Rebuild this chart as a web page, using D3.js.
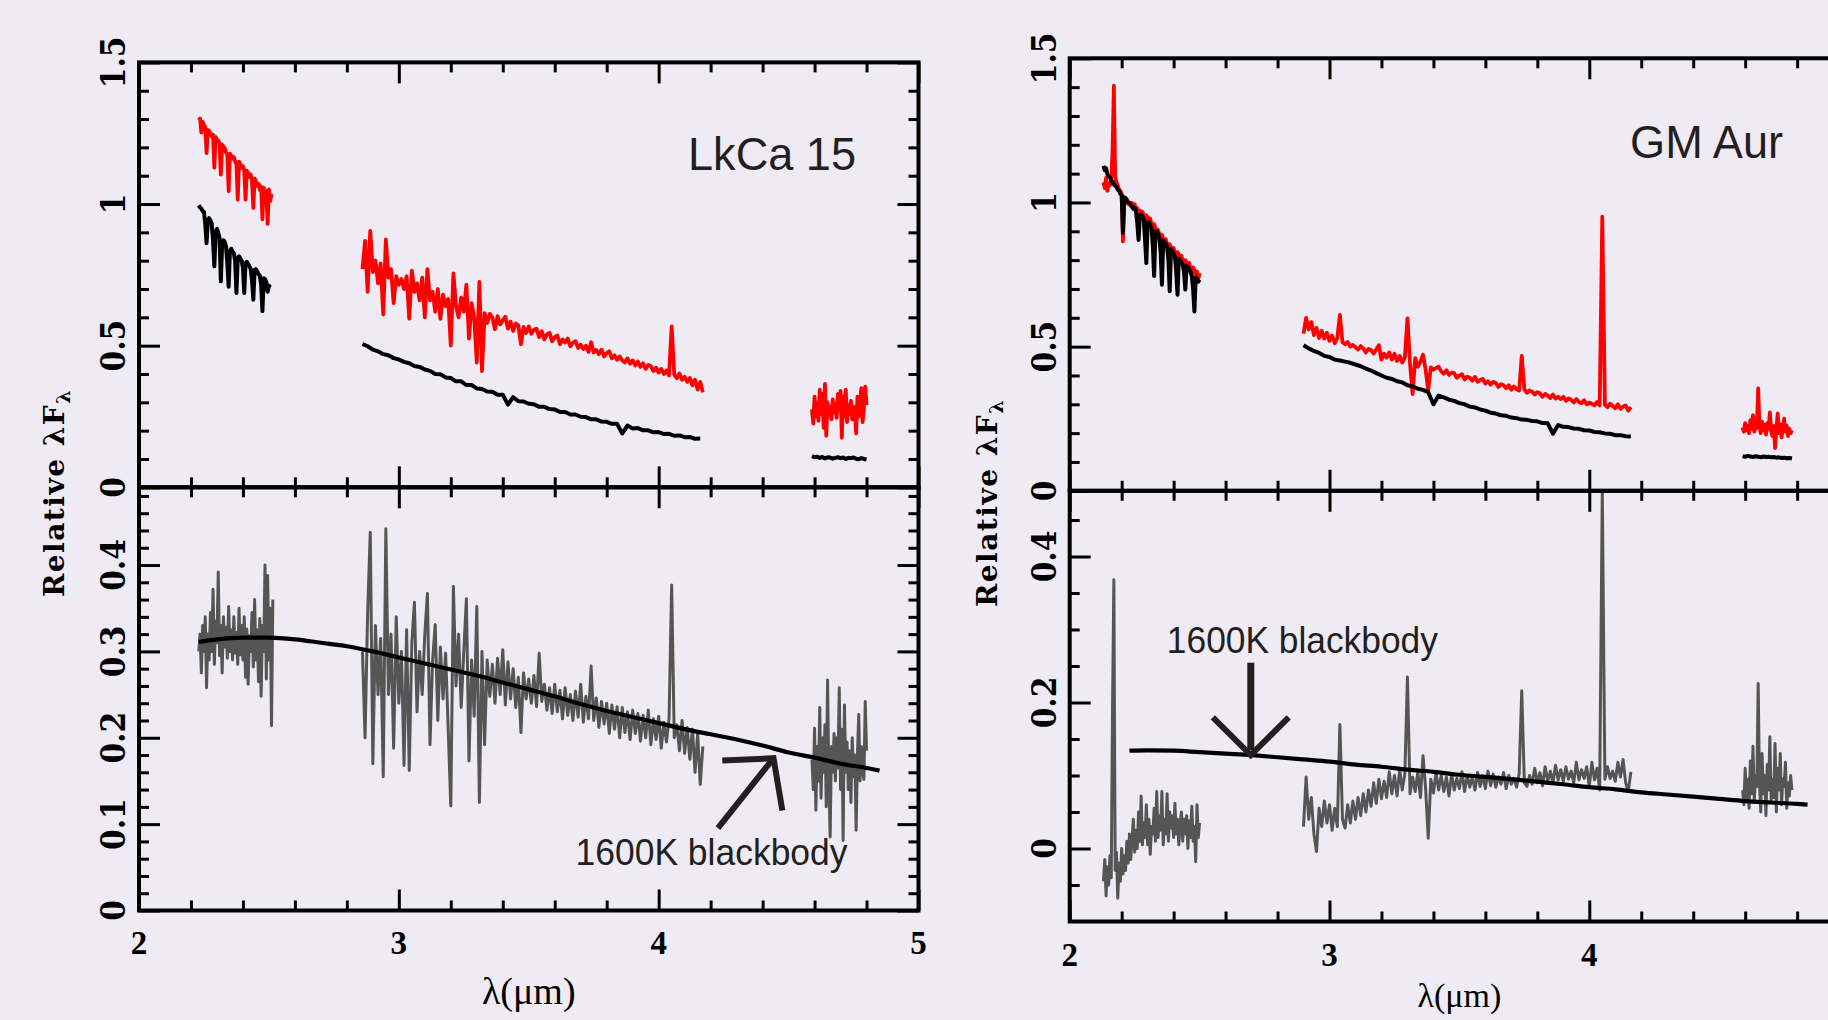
<!DOCTYPE html>
<html>
<head>
<meta charset="utf-8">
<script src="https://cdn.jsdelivr.net/npm/d3@7"></script>
<style>
  html, body { margin: 0; padding: 0; background: #efebf4; }
  svg { display: block; }
</style>
</head>
<body>
<script>
// ---------------------------------------------------------------------------
// Spectra: relative λFλ sampled on regular wavelength grids (µm).
// "target" = star (red), "standard" = photospheric template (black),
// "excess" = residual continuum (grey, lower panels).
// ---------------------------------------------------------------------------

// ---- LkCa 15 ----
const lkcaRedK = [1.296,1.302,1.252,1.290,1.279,1.272,1.180,1.262,1.258,1.247,1.238,1.245,1.128,1.236,1.228,1.224,1.214,1.104,1.210,1.203,1.198,1.182,1.175,1.045,1.178,1.170,1.160,1.166,1.150,1.142,1.015,1.150,1.140,1.128,1.134,1.120,1.015,1.118,1.110,1.096,1.104,1.082,0.986,1.090,1.080,1.064,1.072,1.050,1.062,0.946,1.058,1.040,1.046,0.930,1.052,1.010,1.036];
const lkcaBlackK = [0.996,0.988,0.984,0.975,0.972,0.930,0.862,0.940,0.950,0.942,0.930,0.870,0.780,0.900,0.912,0.900,0.880,0.727,0.860,0.872,0.866,0.850,0.790,0.708,0.835,0.842,0.832,0.826,0.800,0.686,0.808,0.815,0.808,0.800,0.775,0.686,0.792,0.796,0.788,0.780,0.770,0.730,0.662,0.768,0.770,0.762,0.752,0.748,0.715,0.622,0.738,0.735,0.724,0.690,0.712,0.706];
const lkcaRedL = [0.770,0.870,0.690,0.905,0.760,0.800,0.720,0.790,0.610,0.875,0.740,0.770,0.650,0.745,0.715,0.735,0.700,0.745,0.595,0.765,0.690,0.720,0.660,0.740,0.600,0.770,0.660,0.690,0.620,0.700,0.595,0.680,0.640,0.665,0.500,0.755,0.640,0.600,0.670,0.620,0.715,0.525,0.650,0.600,0.440,0.725,0.410,0.615,0.580,0.612,0.600,0.558,0.604,0.575,0.590,0.602,0.560,0.585,0.552,0.578,0.571,0.505,0.566,0.545,0.568,0.542,0.556,0.560,0.530,0.551,0.522,0.540,0.545,0.515,0.530,0.536,0.505,0.522,0.511,0.525,0.498,0.510,0.516,0.492,0.503,0.488,0.500,0.478,0.512,0.476,0.485,0.470,0.486,0.462,0.474,0.480,0.455,0.466,0.450,0.462,0.448,0.441,0.455,0.436,0.448,0.430,0.444,0.425,0.438,0.418,0.432,0.428,0.410,0.422,0.405,0.418,0.400,0.412,0.395,0.568,0.398,0.385,0.402,0.380,0.390,0.372,0.386,0.360,0.380,0.345,0.372,0.335];
const lkcaBlackL = [0.506,0.498,0.486,0.480,0.470,0.466,0.456,0.451,0.443,0.438,0.428,0.425,0.416,0.411,0.400,0.399,0.388,0.386,0.374,0.374,0.361,0.361,0.349,0.347,0.338,0.337,0.327,0.327,0.292,0.318,0.304,0.303,0.295,0.293,0.284,0.284,0.276,0.275,0.266,0.266,0.257,0.257,0.249,0.248,0.240,0.240,0.232,0.231,0.224,0.224,0.190,0.218,0.208,0.209,0.201,0.201,0.194,0.195,0.188,0.189,0.182,0.183,0.177,0.178,0.171,0.172];
const lkcaRedM = [0.275,0.225,0.320,0.250,0.300,0.235,0.345,0.260,0.330,0.210,0.365,0.182,0.300,0.255,0.285,0.240,0.310,0.265,0.295,0.245,0.330,0.275,0.340,0.175,0.320,0.250,0.345,0.230,0.290,0.260,0.305,0.240,0.285,0.270,0.190,0.320,0.250,0.300,0.350,0.230,0.280,0.355,0.290];
const lkcaBlackM = [0.110,0.106,0.108,0.104,0.107,0.102,0.106,0.105,0.101,0.104,0.106,0.103,0.105,0.100,0.104,0.103,0.105,0.101,0.099,0.103,0.100,0.098];
const lkcaExcessK = [0.300,0.320,0.275,0.330,0.300,0.340,0.258,0.320,0.290,0.345,0.300,0.372,0.285,0.335,0.310,0.392,0.295,0.330,0.275,0.340,0.305,0.328,0.292,0.352,0.300,0.325,0.290,0.340,0.298,0.322,0.285,0.350,0.296,0.330,0.290,0.340,0.270,0.326,0.262,0.318,0.300,0.345,0.282,0.360,0.290,0.325,0.265,0.338,0.248,0.330,0.300,0.400,0.268,0.388,0.290,0.350,0.214,0.360];
const lkcaExcessL = [0.300,0.200,0.345,0.438,0.170,0.330,0.250,0.315,0.155,0.442,0.250,0.320,0.188,0.340,0.240,0.300,0.168,0.325,0.162,0.310,0.357,0.230,0.300,0.250,0.320,0.367,0.192,0.290,0.331,0.220,0.305,0.245,0.298,0.210,0.121,0.375,0.260,0.320,0.235,0.300,0.361,0.173,0.290,0.225,0.352,0.125,0.300,0.192,0.290,0.248,0.285,0.240,0.292,0.250,0.302,0.238,0.288,0.245,0.280,0.235,0.270,0.206,0.275,0.245,0.268,0.240,0.272,0.236,0.298,0.242,0.262,0.232,0.258,0.228,0.262,0.230,0.255,0.222,0.258,0.226,0.250,0.220,0.254,0.224,0.262,0.218,0.248,0.222,0.283,0.220,0.246,0.212,0.242,0.216,0.240,0.205,0.238,0.210,0.236,0.200,0.235,0.206,0.230,0.198,0.232,0.205,0.228,0.196,0.226,0.200,0.232,0.192,0.222,0.198,0.225,0.188,0.218,0.195,0.222,0.377,0.200,0.215,0.185,0.220,0.182,0.212,0.175,0.210,0.160,0.205,0.146,0.190];
const lkcaExcessM = [0.175,0.140,0.211,0.116,0.190,0.150,0.235,0.130,0.200,0.160,0.215,0.120,0.267,0.150,0.085,0.190,0.160,0.205,0.150,0.200,0.165,0.258,0.140,0.210,0.081,0.238,0.160,0.195,0.140,0.185,0.125,0.200,0.155,0.180,0.093,0.180,0.227,0.150,0.190,0.160,0.152,0.242,0.185];
// 1600 K blackbody, read at 0.1 µm intervals
const lkcaBBLam  = [2.23,2.3,2.4,2.5,2.6,2.7,2.8,2.9,3.0,3.1,3.2,3.3,3.4,3.5,3.6,3.7,3.8,3.9,4.0,4.1,4.2,4.3,4.4,4.5,4.6,4.7,4.8,4.85];
const lkcaBBFlux = [0.311,0.314,0.316,0.316,0.314,0.310,0.306,0.300,0.293,0.286,0.279,0.272,0.264,0.256,0.248,0.239,0.231,0.224,0.217,0.210,0.204,0.198,0.191,0.183,0.177,0.170,0.165,0.162];

// ---- GM Aur ----
const gmaurRedK = [1.070,1.050,1.085,1.040,1.065,1.060,1.075,1.180,1.405,1.090,1.070,1.058,1.045,1.040,1.030,0.865,1.010,1.005,1.012,0.995,1.000,0.990,0.998,0.985,0.994,0.975,0.980,0.940,0.972,0.965,0.968,0.955,0.930,0.955,0.948,0.938,0.944,0.925,0.905,0.925,0.912,0.900,0.905,0.890,0.870,0.888,0.875,0.868,0.872,0.855,0.835,0.855,0.845,0.838,0.842,0.825,0.800,0.828,0.820,0.812,0.815,0.798,0.775,0.800,0.790,0.785,0.790,0.770,0.748,0.775,0.765,0.752,0.760,0.735,0.755];
const gmaurBlackK = [1.127,1.112,1.118,1.098,1.092,1.088,1.075,1.072,1.062,1.058,1.055,1.045,1.040,1.030,1.025,0.895,1.018,1.015,1.005,1.000,0.998,0.990,0.985,0.978,0.982,0.970,0.930,0.870,0.955,0.960,0.950,0.940,0.870,0.790,0.930,0.932,0.922,0.910,0.850,0.745,0.898,0.900,0.890,0.878,0.830,0.715,0.868,0.862,0.856,0.845,0.800,0.692,0.838,0.830,0.822,0.812,0.760,0.680,0.805,0.800,0.792,0.785,0.760,0.698,0.780,0.775,0.768,0.760,0.745,0.700,0.622,0.740,0.735,0.725,0.732];
const gmaurRedL = [0.545,0.600,0.560,0.585,0.540,0.565,0.530,0.555,0.528,0.548,0.520,0.538,0.512,0.530,0.610,0.515,0.508,0.516,0.500,0.506,0.498,0.490,0.502,0.494,0.480,0.492,0.488,0.476,0.490,0.505,0.455,0.475,0.462,0.480,0.455,0.475,0.450,0.468,0.445,0.462,0.598,0.440,0.335,0.460,0.430,0.448,0.472,0.420,0.350,0.428,0.420,0.426,0.430,0.414,0.406,0.418,0.402,0.410,0.408,0.392,0.400,0.404,0.386,0.396,0.392,0.382,0.395,0.378,0.384,0.388,0.372,0.380,0.368,0.378,0.374,0.360,0.370,0.366,0.356,0.366,0.350,0.362,0.352,0.348,0.468,0.352,0.340,0.348,0.344,0.334,0.342,0.338,0.326,0.336,0.330,0.322,0.334,0.320,0.326,0.318,0.326,0.312,0.320,0.316,0.306,0.318,0.308,0.304,0.314,0.300,0.306,0.302,0.296,0.308,0.296,0.951,0.298,0.290,0.302,0.294,0.286,0.300,0.284,0.292,0.296,0.278,0.290];
const gmaurBlackL = [0.505,0.494,0.485,0.478,0.468,0.464,0.455,0.452,0.448,0.444,0.438,0.432,0.424,0.417,0.408,0.400,0.392,0.388,0.380,0.376,0.366,0.362,0.354,0.350,0.342,0.300,0.330,0.324,0.316,0.312,0.304,0.300,0.292,0.289,0.282,0.278,0.271,0.268,0.262,0.260,0.254,0.252,0.247,0.246,0.242,0.241,0.235,0.234,0.198,0.228,0.222,0.221,0.216,0.215,0.210,0.209,0.204,0.203,0.199,0.198,0.193,0.193,0.189,0.188];
const gmaurRedM = [0.220,0.205,0.235,0.210,0.225,0.200,0.245,0.215,0.262,0.205,0.230,0.218,0.355,0.225,0.200,0.240,0.210,0.228,0.195,0.235,0.215,0.272,0.205,0.190,0.225,0.148,0.210,0.268,0.200,0.230,0.185,0.220,0.250,0.205,0.225,0.190,0.215,0.200,0.210];
const gmaurBlackM = [0.120,0.118,0.121,0.119,0.117,0.120,0.118,0.116,0.119,0.117,0.118,0.116,0.117,0.115,0.116,0.114,0.115,0.113,0.114,0.112];
const gmaurExcessK = [-0.045,-0.015,-0.065,-0.025,-0.050,-0.010,-0.040,0.200,0.368,-0.030,-0.005,-0.068,-0.020,-0.045,0.000,-0.035,-0.010,-0.030,0.010,-0.020,0.020,-0.015,0.015,0.040,-0.005,0.025,0.000,0.050,0.010,0.072,0.005,0.035,0.015,0.060,0.005,0.040,-0.008,0.030,0.020,0.055,0.010,0.078,0.015,0.045,0.025,0.078,0.005,0.040,0.020,0.075,0.010,0.050,0.028,0.045,0.015,0.062,0.020,0.040,0.005,0.035,0.050,0.010,0.040,0.020,0.045,0.000,0.038,0.015,0.058,0.010,0.030,-0.018,0.060,0.015,0.035];
const gmaurExcessL = [0.030,0.098,0.040,0.070,0.020,-0.004,0.055,0.030,0.065,0.035,0.060,0.025,0.055,0.030,0.170,0.040,0.028,0.060,0.035,0.065,0.040,0.070,0.045,0.075,0.050,0.080,0.058,0.090,0.062,0.095,0.068,0.092,0.070,0.105,0.075,0.100,0.072,0.108,0.080,0.102,0.235,0.075,0.098,0.078,0.105,0.070,0.127,0.082,0.014,0.095,0.076,0.104,0.080,0.100,0.078,0.098,0.072,0.102,0.080,0.096,0.082,0.105,0.078,0.100,0.084,0.098,0.080,0.104,0.085,0.100,0.082,0.106,0.086,0.102,0.084,0.098,0.088,0.104,0.082,0.100,0.088,0.096,0.084,0.102,0.216,0.090,0.085,0.100,0.088,0.110,0.090,0.104,0.086,0.112,0.092,0.106,0.090,0.114,0.094,0.108,0.092,0.112,0.095,0.106,0.090,0.118,0.094,0.108,0.096,0.112,0.085,0.118,0.094,0.110,0.080,0.490,0.095,0.112,0.096,0.106,0.092,0.118,0.098,0.122,0.090,0.078,0.105];
const gmaurExcessM = [0.080,0.060,0.110,0.070,0.095,0.055,0.120,0.075,0.140,0.065,0.100,0.085,0.226,0.090,0.050,0.130,0.075,0.100,0.045,0.115,0.080,0.153,0.065,0.095,0.070,0.144,0.050,0.110,0.080,0.130,0.060,0.095,0.085,0.118,0.055,0.090,0.072,0.100,0.080];
const gmaurBBLam  = [2.23,2.3,2.4,2.5,2.6,2.7,2.8,2.9,3.0,3.1,3.2,3.3,3.4,3.5,3.6,3.7,3.8,3.9,4.0,4.1,4.2,4.3,4.4,4.5,4.6,4.7,4.8,4.84];
const gmaurBBFlux = [0.134,0.1345,0.134,0.132,0.130,0.128,0.125,0.122,0.119,0.115,0.112,0.108,0.105,0.101,0.098,0.095,0.0915,0.088,0.084,0.081,0.077,0.074,0.071,0.068,0.065,0.063,0.061,0.060];

// Axis ticks and labels
const lamTicksMajor = [2, 3, 4, 5];
const lamTicksMinor = [2.2, 2.4, 2.6, 2.8, 3.2, 3.4, 3.6, 3.8, 4.2, 4.4, 4.6, 4.8];
const fluxTicksMajor = [0, 0.5, 1, 1.5];
const fluxTicksMinor = [0.1, 0.2, 0.3, 0.4, 0.6, 0.7, 0.8, 0.9, 1.1, 1.2, 1.3, 1.4];
const lkcaExcessMajor = [0, 0.1, 0.2, 0.3, 0.4];
const lkcaExcessMinor = [0.02, 0.04, 0.06, 0.08, 0.12, 0.14, 0.16, 0.18, 0.22, 0.24, 0.26, 0.28, 0.32, 0.34, 0.36, 0.38, 0.42, 0.44, 0.46, 0.48];
const gmaurExcessMajor = [0, 0.2, 0.4];
const gmaurExcessMinor = [-0.05, 0.05, 0.1, 0.15, 0.25, 0.3, 0.35, 0.45];

// ---------------------------------------------------------------------------
const W = 1828, H = 1020;
const INK = '#231f20';
const svg = d3.select('body').append('svg').attr('width', W).attr('height', H);
svg.append('rect').attr('width', W).attr('height', H).attr('fill', '#efebf4');

const seriesStyle = {
  target:   { stroke: '#ff0000', width: 3.8 },
  standard: { stroke: '#000000', width: 4.0 },
  excess:   { stroke: '#555555', width: 3.0 }
};

const grid = (lam0, dlam, flux) => flux.map((f, i) => [lam0 + i * dlam, f]);

let clipId = 0;
function clipRect(x0, y0, x1, y1) {
  const id = 'clip' + (clipId++);
  svg.append('clipPath').attr('id', id).append('rect')
    .attr('x', x0).attr('y', y0).attr('width', x1 - x0).attr('height', y1 - y0);
  return `url(#${id})`;
}

function tickRow(g, axisFn, scale, values, size, transform) {
  const a = g.append('g').attr('transform', transform)
    .call(axisFn(scale).tickValues(values).tickSize(-size).tickFormat(''));
  a.select('.domain').remove();
  a.selectAll('.tick line').attr('stroke', '#000').attr('stroke-width', 3);
}

function framePanel(g, x, y, yMajor, yMinor) {
  const [x0, x1] = x.range();
  const [yb, yt] = y.range();
  tickRow(g, d3.axisBottom, x, lamTicksMinor, 10, `translate(0,${yb})`);
  tickRow(g, d3.axisBottom, x, lamTicksMajor, 21, `translate(0,${yb})`);
  tickRow(g, d3.axisTop, x, lamTicksMinor, 10, `translate(0,${yt})`);
  tickRow(g, d3.axisTop, x, lamTicksMajor, 21, `translate(0,${yt})`);
  tickRow(g, d3.axisLeft, y, yMinor, 10, `translate(${x0},0)`);
  tickRow(g, d3.axisLeft, y, yMajor, 21, `translate(${x0},0)`);
  tickRow(g, d3.axisRight, y, yMinor, 10, `translate(${x1},0)`);
  tickRow(g, d3.axisRight, y, yMajor, 21, `translate(${x1},0)`);
  g.append('rect').attr('x', x0).attr('y', yt).attr('width', x1 - x0).attr('height', yb - yt)
    .attr('fill', 'none').attr('stroke', '#000').attr('stroke-width', 4);
}

function yLabels(g, y, values, xBase) {
  g.selectAll(null).data(values).join('text')
    .attr('transform', d => `translate(${xBase},${y(d)}) rotate(-90)`)
    .attr('text-anchor', 'middle')
    .attr('font-family', '"DejaVu Serif Condensed", "DejaVu Serif", serif')
    .attr('font-stretch', 'condensed')
    .attr('font-weight', 'bold').attr('font-size', 33).attr('fill', '#000')
    .text(d => String(d));
}

function drawStar(cfg) {
  const g = svg.append('g');
  const x = d3.scaleLinear().domain([2, 5]).range(cfg.xRange);
  const yTop = d3.scaleLinear().domain([0, 1.5]).range(cfg.topRange);
  const yBot = d3.scaleLinear().domain(cfg.excessDomain).range(cfg.botRange);

  const clipTop = clipRect(cfg.xRange[0], cfg.topRange[1], cfg.xRange[1], cfg.topRange[0]);
  const clipBot = clipRect(cfg.xRange[0], cfg.botRange[1], cfg.xRange[1], cfg.botRange[0]);

  const lineTop = d3.line().x(d => x(d[0])).y(d => yTop(d[1]));
  const lineBot = d3.line().x(d => x(d[0])).y(d => yBot(d[1]));

  const gTop = g.append('g').attr('clip-path', clipTop);
  cfg.top.forEach(s => {
    const st = seriesStyle[s.kind];
    gTop.append('path').attr('d', lineTop(grid(s.lam0, s.dlam, s.flux)))
      .attr('fill', 'none').attr('stroke', st.stroke).attr('stroke-width', st.width)
      .attr('stroke-linejoin', 'round');
  });

  const gBot = g.append('g').attr('clip-path', clipBot);
  cfg.bottom.forEach(s => {
    const st = seriesStyle[s.kind];
    gBot.append('path').attr('d', lineBot(grid(s.lam0, s.dlam, s.flux)))
      .attr('fill', 'none').attr('stroke', st.stroke).attr('stroke-width', st.width)
      .attr('stroke-linejoin', 'round');
  });
  const bb = d3.line().curve(d3.curveMonotoneX).x(d => x(d[0])).y(d => yBot(d[1]));
  gBot.append('path').attr('d', bb(d3.zip(cfg.bbLam, cfg.bbFlux)))
    .attr('fill', 'none').attr('stroke', '#000').attr('stroke-width', 4.2);

  framePanel(g, x, yTop, fluxTicksMajor, fluxTicksMinor);
  framePanel(g, x, yBot, cfg.excessMajor, cfg.excessMinor);

  yLabels(g, yTop, fluxTicksMajor, cfg.yTickX);
  yLabels(g, yBot, cfg.excessMajor, cfg.yTickX);

  // wavelength tick labels (only those that fall inside the page)
  g.selectAll(null).data(lamTicksMajor.filter(d => x(d) + 10 < W)).join('text')
    .attr('x', d => x(d)).attr('y', cfg.xTickY)
    .attr('text-anchor', 'middle')
    .attr('font-family', '"Liberation Serif", "Times New Roman", serif')
    .attr('font-weight', 'bold').attr('font-size', 33).attr('fill', '#000')
    .text(d => d);

  g.append('text')
    .attr('x', (cfg.xRange[0] + cfg.xRange[1]) / 2).attr('y', cfg.xTitleY)
    .attr('text-anchor', 'middle')
    .attr('font-family', '"Liberation Serif", "Times New Roman", serif')
    .attr('font-size', cfg.xTitleSize).attr('fill', '#000')
    .text('λ(μm)');

  const yt = g.append('text')
    .attr('transform', `translate(${cfg.yTitleX},${cfg.yTitleY}) rotate(-90)`)
    .attr('text-anchor', 'middle')
    .attr('font-family', '"DejaVu Serif", serif')
    .attr('letter-spacing', 1.5)
    .attr('font-weight', 'bold').attr('font-size', 28).attr('fill', '#000');
  yt.append('tspan').text('Relative λF');
  yt.append('tspan').attr('font-size', 19).attr('dy', 6).text('λ');

  // star name
  g.append('text')
    .attr('x', x(cfg.name.lam)).attr('y', yTop(cfg.name.flux))
    .attr('font-family', '"Liberation Sans Narrow", "Liberation Sans", Arial, sans-serif')
    .attr('font-size', 47).attr('fill', INK)
    .attr('textLength', cfg.name.len).attr('lengthAdjust', 'spacingAndGlyphs')
    .text(cfg.name.text);

  // blackbody annotation
  g.append('text')
    .attr('x', x(cfg.note.lam)).attr('y', yBot(cfg.note.flux))
    .attr('font-family', '"Liberation Sans Narrow", "Liberation Sans", Arial, sans-serif')
    .attr('font-size', 36).attr('fill', INK)
    .attr('textLength', cfg.note.len).attr('lengthAdjust', 'spacingAndGlyphs')
    .text('1600K blackbody');

  const arrow = d3.line().x(d => x(d[0])).y(d => yBot(d[1]));
  g.append('path').attr('d', arrow(cfg.arrow.shaft))
    .attr('fill', 'none').attr('stroke', INK).attr('stroke-width', cfg.arrow.shaftWidth);
  g.append('path').attr('d', arrow(cfg.arrow.head))
    .attr('fill', 'none').attr('stroke', INK).attr('stroke-width', 6)
    .attr('stroke-linejoin', 'miter').attr('stroke-miterlimit', 10);
}

drawStar({
  xRange: [139, 918.5], topRange: [487.3, 62.4], botRange: [910.5, 487.3],
  excessDomain: [0, 0.49], excessMajor: lkcaExcessMajor, excessMinor: lkcaExcessMinor,
  yTickX: 125, xTickY: 954, xTitleY: 1004, xTitleSize: 38, yTitleX: 64, yTitleY: 493,
  top: [
    { kind: 'target', lam0: 2.23, dlam: 0.005, flux: lkcaRedK },
    { kind: 'standard', lam0: 2.23, dlam: 0.005, flux: lkcaBlackK },
    { kind: 'target', lam0: 2.86, dlam: 0.01, flux: lkcaRedL },
    { kind: 'standard', lam0: 2.86, dlam: 0.02, flux: lkcaBlackL },
    { kind: 'target', lam0: 4.59, dlam: 0.005, flux: lkcaRedM },
    { kind: 'standard', lam0: 4.59, dlam: 0.01, flux: lkcaBlackM }
  ],
  bottom: [
    { kind: 'excess', lam0: 2.23, dlam: 0.005, flux: lkcaExcessK },
    { kind: 'excess', lam0: 2.86, dlam: 0.01, flux: lkcaExcessL },
    { kind: 'excess', lam0: 4.59, dlam: 0.005, flux: lkcaExcessM }
  ],
  bbLam: lkcaBBLam, bbFlux: lkcaBBFlux,
  name: { text: 'LkCa 15', lam: 4.113, flux: 1.12, len: 168 },
  note: { lam: 3.68, flux: 0.0527, len: 272 },
  arrow: {
    shaft: [[4.228, 0.0955], [4.442, 0.1763]], shaftWidth: 6,
    head: [[4.245, 0.1736], [4.442, 0.1763], [4.476, 0.1157]]
  }
});

drawStar({
  xRange: [1069.7, 1849.1], topRange: [490.8, 58.3], botRange: [921.5, 490.8],
  excessDomain: [-0.1, 0.49], excessMajor: gmaurExcessMajor, excessMinor: gmaurExcessMinor,
  yTickX: 1056, xTickY: 966, xTitleY: 1007, xTitleSize: 34, yTitleX: 997, yTitleY: 503,
  top: [
    { kind: 'target', lam0: 2.13, dlam: 0.005, flux: gmaurRedK },
    { kind: 'standard', lam0: 2.13, dlam: 0.005, flux: gmaurBlackK },
    { kind: 'target', lam0: 2.90, dlam: 0.01, flux: gmaurRedL },
    { kind: 'standard', lam0: 2.90, dlam: 0.02, flux: gmaurBlackL },
    { kind: 'target', lam0: 4.59, dlam: 0.005, flux: gmaurRedM },
    { kind: 'standard', lam0: 4.59, dlam: 0.01, flux: gmaurBlackM }
  ],
  bottom: [
    { kind: 'excess', lam0: 2.13, dlam: 0.005, flux: gmaurExcessK },
    { kind: 'excess', lam0: 2.90, dlam: 0.01, flux: gmaurExcessL },
    { kind: 'excess', lam0: 4.59, dlam: 0.005, flux: gmaurExcessM }
  ],
  bbLam: gmaurBBLam, bbFlux: gmaurBBFlux,
  name: { text: 'GM Aur', lam: 4.157, flux: 1.153, len: 153 },
  note: { lam: 2.374, flux: 0.268, len: 271 },
  arrow: {
    shaft: [[2.697, 0.2545], [2.697, 0.135]], shaftWidth: 7,
    head: [[2.551, 0.1797], [2.697, 0.128], [2.843, 0.1797]]
  }
});
</script>
</body>
</html>
